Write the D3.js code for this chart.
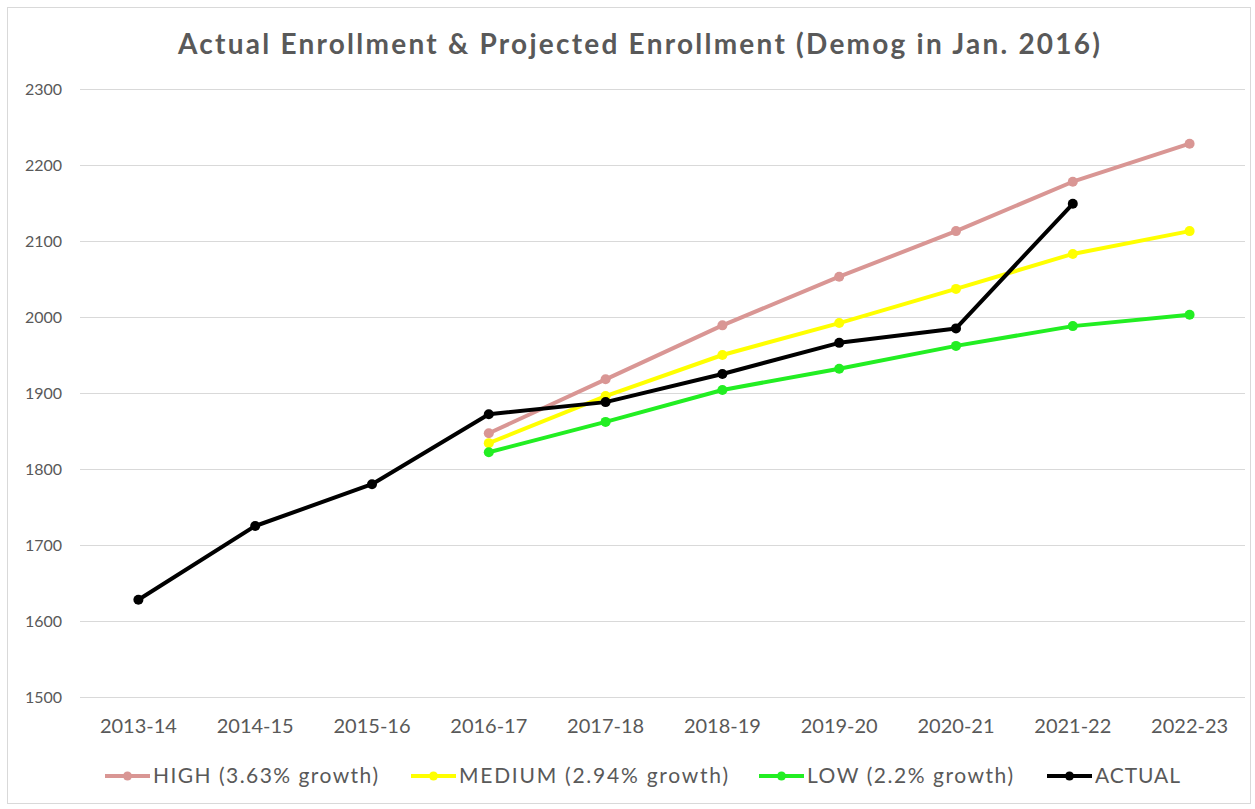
<!DOCTYPE html>
<html>
<head>
<meta charset="utf-8">
<script src="https://cdn.jsdelivr.net/npm/d3@7"></script>
<style>
  body { margin: 0; background: #fff; }
  svg { display: block; font-family: Lato, "Open Sans", sans-serif; }
</style>
</head>
<body>
<svg id="chart" width="1255" height="809"></svg>
<script>
// categories (school years)
const years = ["2013-14", "2014-15", "2015-16", "2016-17", "2017-18",
               "2018-19", "2019-20", "2020-21", "2021-22", "2022-23"];

// projections start in 2016-17, actual ends in 2021-22
const high   = [null, null, null, 1847, 1918, 1989, 2053, 2113, 2178, 2228];
const medium = [null, null, null, 1834, 1896, 1950, 1992, 2037, 2083, 2113];
const low    = [null, null, null, 1822, 1862, 1904, 1932, 1962, 1988, 2003];
const actual = [1628, 1725, 1780, 1872, 1888, 1925, 1966, 1985, 2149, null];

const yTicks = [1500, 1600, 1700, 1800, 1900, 2000, 2100, 2200, 2300];

const series = [
    {name: "HIGH (3.63% growth)",   values: high,   color: "#D99694"},
    {name: "MEDIUM (2.94% growth)", values: medium, color: "#FFFF00"},
    {name: "LOW (2.2% growth)",     values: low,    color: "#22EE22"},
    {name: "ACTUAL",                values: actual, color: "#000000"}
];

let svg = d3.select("#chart");

// outer frame
svg.append("rect")
   .attr("x", 7.5).attr("y", 7.5)
   .attr("width", 1243).attr("height", 796)
   .attr("fill", "#fff")
   .attr("stroke", "#d9d9d9");

let xScale = d3.scaleBand().domain(years).range([80, 1248]);
let yScale = d3.scaleLinear().domain([1500, 2300]).range([697, 89]);

// title
svg.append("text")
   .attr("x", 178).attr("y", 54)
   .attr("font-size", 28).attr("font-weight", "bold")
   .attr("fill", "#595959")
   .attr("textLength", 922).attr("lengthAdjust", "spacing")
   .text("Actual Enrollment & Projected Enrollment (Demog in Jan. 2016)");

// y grid + labels
let yAxis = svg.append("g")
   .attr("transform", "translate(80,0)")
   .call(d3.axisLeft(yScale).tickValues(yTicks).tickSize(-1165).tickFormat(d3.format("d")).tickPadding(18));
yAxis.select(".domain").remove();
yAxis.selectAll("line").attr("stroke", "#d9d9d9");
yAxis.selectAll("text").attr("font-size", 16).attr("fill", "#595959")
     .attr("font-family", "Lato, 'Open Sans', sans-serif");

// x labels
let xAxis = svg.append("g")
   .attr("transform", "translate(0,697)")
   .call(d3.axisBottom(xScale).tickSize(0).tickPadding(22));
xAxis.select(".domain").remove();
xAxis.selectAll("text").attr("font-size", 20).attr("fill", "#595959")
     .attr("font-family", "Lato, 'Open Sans', sans-serif");

let xc = d => xScale(d) + xScale.bandwidth() / 2;

let line = d3.line()
    .defined(d => d.v !== null)
    .x(d => xc(d.year))
    .y(d => yScale(d.v));

series.forEach(s => {
    let pts = years.map((year, i) => ({year: year, v: s.values[i]}));
    svg.append("path")
       .datum(pts)
       .attr("fill", "none")
       .attr("stroke", s.color)
       .attr("stroke-width", 4)
       .attr("stroke-linejoin", "round")
       .attr("d", line);
    svg.append("g")
       .selectAll("circle")
       .data(pts.filter(d => d.v !== null))
       .enter()
       .append("circle")
       .attr("cx", d => xc(d.year))
       .attr("cy", d => yScale(d.v))
       .attr("r", 5)
       .attr("fill", s.color);
});

// legend
let legendX = [105, 411, 759, 1047];
let legendW = [225, 269, 206, 85];
let legend = svg.append("g").attr("transform", "translate(0,776)");
series.forEach((s, i) => {
    let g = legend.append("g").attr("transform", "translate(" + legendX[i] + ",0)");
    g.append("line").attr("x1", 0).attr("x2", 45).attr("y1", 0).attr("y2", 0)
     .attr("stroke", s.color).attr("stroke-width", 4);
    g.append("circle").attr("cx", 22.5).attr("cy", 0).attr("r", 4.5).attr("fill", s.color);
    g.append("text").attr("x", 48).attr("y", 7)
     .attr("font-size", 21).attr("fill", "#595959")
     .attr("textLength", legendW[i]).attr("lengthAdjust", "spacing")
     .text(s.name);
});
</script>
</body>
</html>
